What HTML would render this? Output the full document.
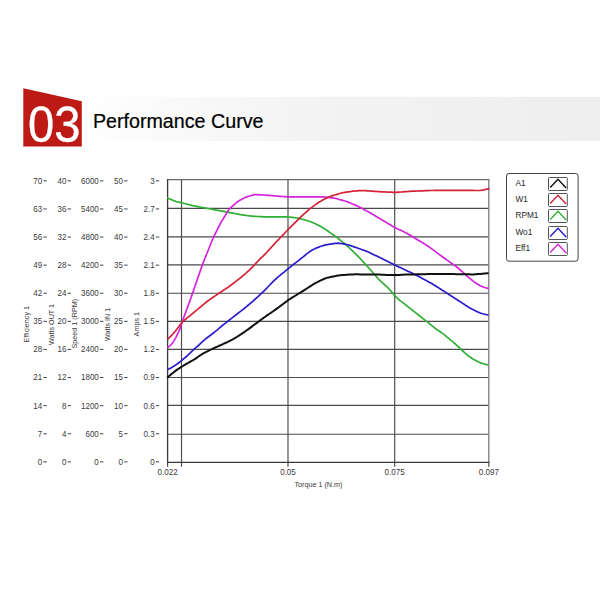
<!DOCTYPE html>
<html><head><meta charset="utf-8"><title>Performance Curve</title>
<style>
html,body{margin:0;padding:0;background:#fff;}
body{width:600px;height:600px;overflow:hidden;position:relative;}
svg{position:absolute;left:0;top:0;}
.ax text{font-family:"Liberation Sans",Arial,sans-serif;font-size:8.5px;fill:#3a3a3a;}
.ax text.tt{font-size:7.2px;}
.lg text{font-size:8.3px;fill:#262626;}
</style></head>
<body>
<svg width="600" height="600" viewBox="0 0 600 600">
<defs>
<linearGradient id="band" x1="0" y1="0" x2="1" y2="0">
<stop offset="0" stop-color="#ffffff"/>
<stop offset="0.12" stop-color="#fbfbfb"/>
<stop offset="0.45" stop-color="#f3f3f3"/>
<stop offset="1" stop-color="#eeeeee"/>
</linearGradient>
</defs>
<rect x="82" y="96.8" width="518" height="44.2" fill="url(#band)"/>
<polygon points="23.3,88.3 81.8,101.3 81.8,146.5 23.3,146.5" fill="#bd1a16"/>
<text transform="translate(28.0,141.8) scale(0.944,1)" font-family="Liberation Sans, Arial, sans-serif" font-size="50" fill="#fff" stroke="#fff" stroke-width="0.35">03</text>
<text x="92.9" y="127.9" font-family="Liberation Sans, Arial, sans-serif" font-size="20.1" fill="#000" stroke="#000" stroke-width="0.2" textLength="170.6" lengthAdjust="spacingAndGlyphs">Performance Curve</text>
<g class="ax">
<text transform="translate(42.2,183.75) scale(0.94,1)" text-anchor="end">70</text>
<line stroke="#444" stroke-width="1" x1="43.4" y1="180.85" x2="46.8" y2="180.85"/>
<text transform="translate(42.2,211.85) scale(0.94,1)" text-anchor="end">63</text>
<line stroke="#444" stroke-width="1" x1="43.4" y1="208.95" x2="46.8" y2="208.95"/>
<text transform="translate(42.2,239.95) scale(0.94,1)" text-anchor="end">56</text>
<line stroke="#444" stroke-width="1" x1="43.4" y1="237.05" x2="46.8" y2="237.05"/>
<text transform="translate(42.2,268.05) scale(0.94,1)" text-anchor="end">49</text>
<line stroke="#444" stroke-width="1" x1="43.4" y1="265.15" x2="46.8" y2="265.15"/>
<text transform="translate(42.2,296.15) scale(0.94,1)" text-anchor="end">42</text>
<line stroke="#444" stroke-width="1" x1="43.4" y1="293.25" x2="46.8" y2="293.25"/>
<text transform="translate(42.2,324.25) scale(0.94,1)" text-anchor="end">35</text>
<line stroke="#444" stroke-width="1" x1="43.4" y1="321.35" x2="46.8" y2="321.35"/>
<text transform="translate(42.2,352.35) scale(0.94,1)" text-anchor="end">28</text>
<line stroke="#444" stroke-width="1" x1="43.4" y1="349.45" x2="46.8" y2="349.45"/>
<text transform="translate(42.2,380.45) scale(0.94,1)" text-anchor="end">21</text>
<line stroke="#444" stroke-width="1" x1="43.4" y1="377.55" x2="46.8" y2="377.55"/>
<text transform="translate(42.2,408.55) scale(0.94,1)" text-anchor="end">14</text>
<line stroke="#444" stroke-width="1" x1="43.4" y1="405.65" x2="46.8" y2="405.65"/>
<text transform="translate(42.2,436.65) scale(0.94,1)" text-anchor="end">7</text>
<line stroke="#444" stroke-width="1" x1="43.4" y1="433.75" x2="46.8" y2="433.75"/>
<text transform="translate(42.2,464.75) scale(0.94,1)" text-anchor="end">0</text>
<line stroke="#444" stroke-width="1" x1="43.4" y1="461.85" x2="46.8" y2="461.85"/>
<text transform="translate(66.4,183.75) scale(0.94,1)" text-anchor="end">40</text>
<line stroke="#444" stroke-width="1" x1="67.6" y1="180.85" x2="71.0" y2="180.85"/>
<text transform="translate(66.4,211.85) scale(0.94,1)" text-anchor="end">36</text>
<line stroke="#444" stroke-width="1" x1="67.6" y1="208.95" x2="71.0" y2="208.95"/>
<text transform="translate(66.4,239.95) scale(0.94,1)" text-anchor="end">32</text>
<line stroke="#444" stroke-width="1" x1="67.6" y1="237.05" x2="71.0" y2="237.05"/>
<text transform="translate(66.4,268.05) scale(0.94,1)" text-anchor="end">28</text>
<line stroke="#444" stroke-width="1" x1="67.6" y1="265.15" x2="71.0" y2="265.15"/>
<text transform="translate(66.4,296.15) scale(0.94,1)" text-anchor="end">24</text>
<line stroke="#444" stroke-width="1" x1="67.6" y1="293.25" x2="71.0" y2="293.25"/>
<text transform="translate(66.4,324.25) scale(0.94,1)" text-anchor="end">20</text>
<line stroke="#444" stroke-width="1" x1="67.6" y1="321.35" x2="71.0" y2="321.35"/>
<text transform="translate(66.4,352.35) scale(0.94,1)" text-anchor="end">16</text>
<line stroke="#444" stroke-width="1" x1="67.6" y1="349.45" x2="71.0" y2="349.45"/>
<text transform="translate(66.4,380.45) scale(0.94,1)" text-anchor="end">12</text>
<line stroke="#444" stroke-width="1" x1="67.6" y1="377.55" x2="71.0" y2="377.55"/>
<text transform="translate(66.4,408.55) scale(0.94,1)" text-anchor="end">8</text>
<line stroke="#444" stroke-width="1" x1="67.6" y1="405.65" x2="71.0" y2="405.65"/>
<text transform="translate(66.4,436.65) scale(0.94,1)" text-anchor="end">4</text>
<line stroke="#444" stroke-width="1" x1="67.6" y1="433.75" x2="71.0" y2="433.75"/>
<text transform="translate(66.4,464.75) scale(0.94,1)" text-anchor="end">0</text>
<line stroke="#444" stroke-width="1" x1="67.6" y1="461.85" x2="71.0" y2="461.85"/>
<text transform="translate(98.8,183.75) scale(0.94,1)" text-anchor="end">6000</text>
<line stroke="#444" stroke-width="1" x1="100.0" y1="180.85" x2="103.4" y2="180.85"/>
<text transform="translate(98.8,211.85) scale(0.94,1)" text-anchor="end">5400</text>
<line stroke="#444" stroke-width="1" x1="100.0" y1="208.95" x2="103.4" y2="208.95"/>
<text transform="translate(98.8,239.95) scale(0.94,1)" text-anchor="end">4800</text>
<line stroke="#444" stroke-width="1" x1="100.0" y1="237.05" x2="103.4" y2="237.05"/>
<text transform="translate(98.8,268.05) scale(0.94,1)" text-anchor="end">4200</text>
<line stroke="#444" stroke-width="1" x1="100.0" y1="265.15" x2="103.4" y2="265.15"/>
<text transform="translate(98.8,296.15) scale(0.94,1)" text-anchor="end">3600</text>
<line stroke="#444" stroke-width="1" x1="100.0" y1="293.25" x2="103.4" y2="293.25"/>
<text transform="translate(98.8,324.25) scale(0.94,1)" text-anchor="end">3000</text>
<line stroke="#444" stroke-width="1" x1="100.0" y1="321.35" x2="103.4" y2="321.35"/>
<text transform="translate(98.8,352.35) scale(0.94,1)" text-anchor="end">2400</text>
<line stroke="#444" stroke-width="1" x1="100.0" y1="349.45" x2="103.4" y2="349.45"/>
<text transform="translate(98.8,380.45) scale(0.94,1)" text-anchor="end">1800</text>
<line stroke="#444" stroke-width="1" x1="100.0" y1="377.55" x2="103.4" y2="377.55"/>
<text transform="translate(98.8,408.55) scale(0.94,1)" text-anchor="end">1200</text>
<line stroke="#444" stroke-width="1" x1="100.0" y1="405.65" x2="103.4" y2="405.65"/>
<text transform="translate(98.8,436.65) scale(0.94,1)" text-anchor="end">600</text>
<line stroke="#444" stroke-width="1" x1="100.0" y1="433.75" x2="103.4" y2="433.75"/>
<text transform="translate(98.8,464.75) scale(0.94,1)" text-anchor="end">0</text>
<line stroke="#444" stroke-width="1" x1="100.0" y1="461.85" x2="103.4" y2="461.85"/>
<text transform="translate(123.0,183.75) scale(0.94,1)" text-anchor="end">50</text>
<line stroke="#444" stroke-width="1" x1="124.2" y1="180.85" x2="127.6" y2="180.85"/>
<text transform="translate(123.0,211.85) scale(0.94,1)" text-anchor="end">45</text>
<line stroke="#444" stroke-width="1" x1="124.2" y1="208.95" x2="127.6" y2="208.95"/>
<text transform="translate(123.0,239.95) scale(0.94,1)" text-anchor="end">40</text>
<line stroke="#444" stroke-width="1" x1="124.2" y1="237.05" x2="127.6" y2="237.05"/>
<text transform="translate(123.0,268.05) scale(0.94,1)" text-anchor="end">35</text>
<line stroke="#444" stroke-width="1" x1="124.2" y1="265.15" x2="127.6" y2="265.15"/>
<text transform="translate(123.0,296.15) scale(0.94,1)" text-anchor="end">30</text>
<line stroke="#444" stroke-width="1" x1="124.2" y1="293.25" x2="127.6" y2="293.25"/>
<text transform="translate(123.0,324.25) scale(0.94,1)" text-anchor="end">25</text>
<line stroke="#444" stroke-width="1" x1="124.2" y1="321.35" x2="127.6" y2="321.35"/>
<text transform="translate(123.0,352.35) scale(0.94,1)" text-anchor="end">20</text>
<line stroke="#444" stroke-width="1" x1="124.2" y1="349.45" x2="127.6" y2="349.45"/>
<text transform="translate(123.0,380.45) scale(0.94,1)" text-anchor="end">15</text>
<line stroke="#444" stroke-width="1" x1="124.2" y1="377.55" x2="127.6" y2="377.55"/>
<text transform="translate(123.0,408.55) scale(0.94,1)" text-anchor="end">10</text>
<line stroke="#444" stroke-width="1" x1="124.2" y1="405.65" x2="127.6" y2="405.65"/>
<text transform="translate(123.0,436.65) scale(0.94,1)" text-anchor="end">5</text>
<line stroke="#444" stroke-width="1" x1="124.2" y1="433.75" x2="127.6" y2="433.75"/>
<text transform="translate(123.0,464.75) scale(0.94,1)" text-anchor="end">0</text>
<line stroke="#444" stroke-width="1" x1="124.2" y1="461.85" x2="127.6" y2="461.85"/>
<text transform="translate(154.6,183.75) scale(0.94,1)" text-anchor="end">3</text>
<line stroke="#444" stroke-width="1" x1="155.8" y1="180.85" x2="159.2" y2="180.85"/>
<text transform="translate(154.6,211.85) scale(0.94,1)" text-anchor="end">2.7</text>
<line stroke="#444" stroke-width="1" x1="155.8" y1="208.95" x2="159.2" y2="208.95"/>
<text transform="translate(154.6,239.95) scale(0.94,1)" text-anchor="end">2.4</text>
<line stroke="#444" stroke-width="1" x1="155.8" y1="237.05" x2="159.2" y2="237.05"/>
<text transform="translate(154.6,268.05) scale(0.94,1)" text-anchor="end">2.1</text>
<line stroke="#444" stroke-width="1" x1="155.8" y1="265.15" x2="159.2" y2="265.15"/>
<text transform="translate(154.6,296.15) scale(0.94,1)" text-anchor="end">1.8</text>
<line stroke="#444" stroke-width="1" x1="155.8" y1="293.25" x2="159.2" y2="293.25"/>
<text transform="translate(154.6,324.25) scale(0.94,1)" text-anchor="end">1.5</text>
<line stroke="#444" stroke-width="1" x1="155.8" y1="321.35" x2="159.2" y2="321.35"/>
<text transform="translate(154.6,352.35) scale(0.94,1)" text-anchor="end">1.2</text>
<line stroke="#444" stroke-width="1" x1="155.8" y1="349.45" x2="159.2" y2="349.45"/>
<text transform="translate(154.6,380.45) scale(0.94,1)" text-anchor="end">0.9</text>
<line stroke="#444" stroke-width="1" x1="155.8" y1="377.55" x2="159.2" y2="377.55"/>
<text transform="translate(154.6,408.55) scale(0.94,1)" text-anchor="end">0.6</text>
<line stroke="#444" stroke-width="1" x1="155.8" y1="405.65" x2="159.2" y2="405.65"/>
<text transform="translate(154.6,436.65) scale(0.94,1)" text-anchor="end">0.3</text>
<line stroke="#444" stroke-width="1" x1="155.8" y1="433.75" x2="159.2" y2="433.75"/>
<text transform="translate(154.6,464.75) scale(0.94,1)" text-anchor="end">0</text>
<line stroke="#444" stroke-width="1" x1="155.8" y1="461.85" x2="159.2" y2="461.85"/>
<text class="tt" transform="translate(28.6,324.3) rotate(-90)" text-anchor="middle">Efficiency 1</text>
<text class="tt" transform="translate(53.6,324.5) rotate(-90)" text-anchor="middle">Watts OUT 1</text>
<text class="tt" transform="translate(76.6,323.7) rotate(-90)" text-anchor="middle">Speed 1 (RPM)</text>
<text class="tt" transform="translate(110.1,324.4) rotate(-90)" text-anchor="middle">Watts IN 1</text>
<text class="tt" transform="translate(139.29999999999998,324.2) rotate(-90)" text-anchor="middle">Amps 1</text>
<text transform="translate(167.6,475.2) scale(0.95,1)" text-anchor="middle">0.022</text>
<text transform="translate(288.0,475.2) scale(0.95,1)" text-anchor="middle">0.05</text>
<text transform="translate(394.7,475.2) scale(0.95,1)" text-anchor="middle">0.075</text>
<text transform="translate(488.8,475.2) scale(0.95,1)" text-anchor="middle">0.097</text>
<text class="tt" x="318.4" y="487.3" text-anchor="middle">Torque 1 (N.m)</text>
</g>
<g stroke="#4a4a4a" stroke-width="1.15" fill="none">
<line x1="167.6" y1="208.30" x2="488.8" y2="208.30"/>
<line x1="167.6" y1="236.90" x2="488.8" y2="236.90"/>
<line x1="167.6" y1="264.90" x2="488.8" y2="264.90"/>
<line x1="167.6" y1="293.20" x2="488.8" y2="293.20"/>
<line x1="167.6" y1="321.40" x2="488.8" y2="321.40"/>
<line x1="167.6" y1="349.30" x2="488.8" y2="349.30"/>
<line x1="167.6" y1="377.50" x2="488.8" y2="377.50"/>
<line x1="167.6" y1="405.40" x2="488.8" y2="405.40"/>
<line x1="167.6" y1="434.20" x2="488.8" y2="434.20"/>
<line x1="181.50" y1="179.6" x2="181.50" y2="462.4"/>
<line x1="288.00" y1="179.6" x2="288.00" y2="462.4"/>
<line x1="394.70" y1="179.6" x2="394.70" y2="462.4"/>
<line x1="167.60" y1="462.5" x2="167.60" y2="466.7"/>
<line x1="181.50" y1="462.5" x2="181.50" y2="466.7"/>
<line x1="288.00" y1="462.5" x2="288.00" y2="466.7"/>
<line x1="394.70" y1="462.5" x2="394.70" y2="466.7"/>
<line x1="488.80" y1="462.5" x2="488.80" y2="466.7"/>
</g>
<g fill="none" stroke-linecap="square">
<line x1="167.6" y1="179.6" x2="488.8" y2="179.6" stroke="#6a6a6a" stroke-width="1.3"/>
<line x1="488.8" y1="179.6" x2="488.8" y2="462.4" stroke="#7a7a7a" stroke-width="1.3"/>
<line x1="167.6" y1="179.6" x2="167.6" y2="462.4" stroke="#3a3a3a" stroke-width="1.3"/>
<line x1="167.6" y1="462.4" x2="488.8" y2="462.4" stroke="#3a3a3a" stroke-width="1.3"/>
</g>
<g fill="none" stroke-width="1.7" stroke-linejoin="round" stroke-linecap="round">
<polyline points="167.8,198.2 168.8,198.6 169.8,199.0 170.8,199.4 171.8,199.8 172.8,200.2 173.8,200.6 174.8,201.0 175.8,201.4 176.8,201.7 177.8,202.0 178.8,202.2 179.8,202.4 180.8,202.6 181.8,202.8 182.8,203.0 183.8,203.3 184.8,203.5 185.8,203.8 186.8,204.1 187.8,204.3 188.8,204.6 189.8,204.8 190.8,205.1 191.8,205.4 192.8,205.6 193.8,205.8 194.8,206.0 195.8,206.2 196.8,206.4 197.8,206.6 198.8,206.8 199.8,207.0 200.8,207.2 201.8,207.3 202.8,207.5 203.8,207.7 204.8,207.9 205.8,208.1 206.8,208.3 207.8,208.5 208.8,208.7 209.8,208.8 210.8,209.0 211.8,209.2 212.8,209.4 213.8,209.6 214.8,209.8 215.8,210.0 216.8,210.1 217.8,210.3 218.8,210.5 219.8,210.7 220.8,210.9 221.8,211.1 222.8,211.2 223.8,211.4 224.8,211.6 225.8,211.8 226.8,212.0 227.8,212.2 228.8,212.4 229.8,212.6 230.8,212.8 231.8,212.9 232.8,213.1 233.8,213.3 234.8,213.5 235.8,213.7 236.8,213.9 237.8,214.1 238.8,214.3 239.8,214.5 240.8,214.6 241.8,214.8 242.8,215.0 243.8,215.1 244.8,215.2 245.8,215.4 246.8,215.5 247.8,215.7 248.8,215.8 249.8,216.0 250.8,216.1 251.8,216.2 252.8,216.2 253.8,216.3 254.8,216.4 255.8,216.4 256.8,216.5 257.8,216.5 258.8,216.6 259.8,216.6 260.8,216.7 261.8,216.7 262.8,216.8 263.8,216.8 264.8,216.8 265.8,216.9 266.8,216.9 267.8,216.9 268.8,216.9 269.8,216.9 270.8,216.9 271.8,216.9 272.8,216.9 273.8,216.9 274.8,216.9 275.8,216.9 276.8,216.9 277.8,216.9 278.8,216.9 279.8,216.9 280.8,216.9 281.8,216.9 282.8,216.9 283.8,216.9 284.8,216.9 285.8,216.9 286.8,216.9 287.8,217.0 288.8,217.0 289.8,217.1 290.8,217.2 291.8,217.3 292.8,217.4 293.8,217.6 294.8,217.7 295.8,217.8 296.8,218.0 297.8,218.2 298.8,218.4 299.8,218.6 300.8,218.8 301.8,219.1 302.8,219.3 303.8,219.6 304.8,219.9 305.8,220.2 306.8,220.5 307.8,220.8 308.8,221.1 309.8,221.5 310.8,221.8 311.8,222.2 312.8,222.6 313.8,223.1 314.8,223.6 315.8,224.1 316.8,224.6 317.8,225.1 318.8,225.6 319.8,226.1 320.8,226.6 321.8,227.1 322.8,227.7 323.8,228.3 324.8,228.9 325.8,229.6 326.8,230.3 327.8,231.0 328.8,231.7 329.8,232.4 330.8,233.1 331.8,233.8 332.8,234.5 333.8,235.2 334.8,235.9 335.8,236.7 336.8,237.4 337.8,238.2 338.8,239.0 339.8,239.8 340.8,240.6 341.8,241.4 342.8,242.2 343.8,243.0 344.8,243.8 345.8,244.7 346.8,245.5 347.8,246.4 348.8,247.4 349.8,248.3 350.8,249.3 351.8,250.2 352.8,251.2 353.8,252.2 354.8,253.1 355.8,254.1 356.8,255.1 357.8,256.1 358.8,257.1 359.8,258.2 360.8,259.2 361.8,260.3 362.8,261.4 363.8,262.5 364.8,263.6 365.8,264.7 366.8,265.8 367.8,266.9 368.8,268.0 369.8,269.1 370.8,270.2 371.8,271.4 372.8,272.5 373.8,273.7 374.8,274.8 375.8,276.0 376.8,277.1 377.8,278.2 378.8,279.3 379.8,280.3 380.8,281.3 381.8,282.2 382.8,283.1 383.8,284.0 384.8,284.9 385.8,285.8 386.8,286.7 387.8,287.6 388.8,288.7 389.8,289.8 390.8,290.9 391.8,292.1 392.8,293.3 393.8,294.5 394.8,295.6 395.8,296.7 396.8,297.7 397.8,298.6 398.8,299.5 399.8,300.3 400.8,301.1 401.8,301.9 402.8,302.6 403.8,303.4 404.8,304.2 405.8,305.0 406.8,305.8 407.8,306.6 408.8,307.4 409.8,308.1 410.8,308.9 411.8,309.7 412.8,310.5 413.8,311.3 414.8,312.1 415.8,312.9 416.8,313.7 417.8,314.5 418.8,315.3 419.8,316.0 420.8,316.8 421.8,317.6 422.8,318.4 423.8,319.2 424.8,320.0 425.8,320.8 426.8,321.6 427.8,322.4 428.8,323.2 429.8,324.0 430.8,324.8 431.8,325.6 432.8,326.4 433.8,327.2 434.8,328.0 435.8,328.7 436.8,329.5 437.8,330.2 438.8,330.8 439.8,331.5 440.8,332.2 441.8,332.9 442.8,333.6 443.8,334.4 444.8,335.1 445.8,335.9 446.8,336.8 447.8,337.6 448.8,338.4 449.8,339.3 450.8,340.1 451.8,340.9 452.8,341.8 453.8,342.6 454.8,343.5 455.8,344.4 456.8,345.4 457.8,346.3 458.8,347.2 459.8,348.2 460.8,349.1 461.8,350.1 462.8,351.0 463.8,351.9 464.8,352.8 465.8,353.6 466.8,354.5 467.8,355.3 468.8,356.1 469.8,356.8 470.8,357.5 471.8,358.2 472.8,358.9 473.8,359.5 474.8,360.1 475.8,360.6 476.8,361.1 477.8,361.6 478.8,362.1 479.8,362.5 480.8,362.9 481.8,363.2 482.8,363.5 483.8,363.8 484.8,364.1 485.8,364.3 486.8,364.6 487.8,364.9" stroke="#30b035"/>
<polyline points="167.8,347.4 168.8,346.6 169.8,345.8 170.8,344.9 171.8,343.9 172.8,342.7 173.8,341.1 174.8,339.4 175.8,337.6 176.8,335.7 177.8,333.7 178.8,331.6 179.8,329.0 180.8,326.1 181.8,323.0 182.8,320.0 183.8,317.3 184.8,314.6 185.8,312.0 186.8,309.3 187.8,306.6 188.8,303.8 189.8,301.1 190.8,298.3 191.8,295.4 192.8,292.6 193.8,289.7 194.8,286.8 195.8,283.9 196.8,281.0 197.8,278.0 198.8,275.1 199.8,272.2 200.8,269.4 201.8,266.6 202.8,263.9 203.8,261.3 204.8,258.8 205.8,256.3 206.8,253.8 207.8,251.3 208.8,248.8 209.8,246.3 210.8,243.8 211.8,241.3 212.8,239.0 213.8,236.7 214.8,234.6 215.8,232.6 216.8,230.5 217.8,228.5 218.8,226.5 219.8,224.6 220.8,222.8 221.8,221.1 222.8,219.5 223.8,217.8 224.8,216.2 225.8,214.5 226.8,212.9 227.8,211.3 228.8,209.8 229.8,208.6 230.8,207.6 231.8,206.7 232.8,205.8 233.8,205.0 234.8,204.1 235.8,203.2 236.8,202.3 237.8,201.5 238.8,200.9 239.8,200.3 240.8,199.8 241.8,199.3 242.8,198.8 243.8,198.3 244.8,197.8 245.8,197.3 246.8,196.9 247.8,196.6 248.8,196.3 249.8,196.0 250.8,195.7 251.8,195.4 252.8,195.1 253.8,194.8 254.8,194.7 255.8,194.7 256.8,194.7 257.8,194.7 258.8,194.8 259.8,194.8 260.8,194.8 261.8,194.9 262.8,194.9 263.8,195.0 264.8,195.0 265.8,195.1 266.8,195.2 267.8,195.3 268.8,195.4 269.8,195.4 270.8,195.5 271.8,195.6 272.8,195.7 273.8,195.8 274.8,195.9 275.8,196.0 276.8,196.1 277.8,196.1 278.8,196.2 279.8,196.3 280.8,196.4 281.8,196.5 282.8,196.5 283.8,196.6 284.8,196.7 285.8,196.7 286.8,196.8 287.8,196.8 288.8,196.8 289.8,196.8 290.8,196.8 291.8,196.8 292.8,196.8 293.8,196.8 294.8,196.8 295.8,196.8 296.8,196.8 297.8,196.8 298.8,196.8 299.8,196.8 300.8,196.8 301.8,196.8 302.8,196.8 303.8,196.8 304.8,196.8 305.8,196.8 306.8,196.8 307.8,196.8 308.8,196.8 309.8,196.8 310.8,196.8 311.8,196.8 312.8,196.8 313.8,196.8 314.8,196.8 315.8,196.8 316.8,196.8 317.8,196.8 318.8,196.8 319.8,196.8 320.8,196.8 321.8,196.8 322.8,196.8 323.8,196.9 324.8,197.0 325.8,197.1 326.8,197.2 327.8,197.3 328.8,197.5 329.8,197.6 330.8,197.7 331.8,197.8 332.8,197.9 333.8,198.1 334.8,198.2 335.8,198.5 336.8,198.7 337.8,199.0 338.8,199.3 339.8,199.6 340.8,199.8 341.8,200.1 342.8,200.4 343.8,200.7 344.8,201.0 345.8,201.3 346.8,201.6 347.8,202.0 348.8,202.4 349.8,202.8 350.8,203.2 351.8,203.7 352.8,204.1 353.8,204.5 354.8,204.9 355.8,205.3 356.8,205.8 357.8,206.2 358.8,206.7 359.8,207.2 360.8,207.7 361.8,208.3 362.8,208.8 363.8,209.4 364.8,209.9 365.8,210.4 366.8,211.0 367.8,211.5 368.8,212.1 369.8,212.6 370.8,213.2 371.8,213.8 372.8,214.4 373.8,215.0 374.8,215.6 375.8,216.2 376.8,216.8 377.8,217.4 378.8,218.0 379.8,218.6 380.8,219.2 381.8,219.8 382.8,220.4 383.8,221.0 384.8,221.6 385.8,222.2 386.8,222.8 387.8,223.4 388.8,224.0 389.8,224.6 390.8,225.2 391.8,225.8 392.8,226.4 393.8,226.9 394.8,227.4 395.8,227.9 396.8,228.4 397.8,228.9 398.8,229.4 399.8,229.9 400.8,230.3 401.8,230.8 402.8,231.3 403.8,231.8 404.8,232.3 405.8,232.8 406.8,233.3 407.8,233.9 408.8,234.5 409.8,235.1 410.8,235.7 411.8,236.3 412.8,236.9 413.8,237.5 414.8,238.1 415.8,238.7 416.8,239.3 417.8,239.9 418.8,240.5 419.8,241.1 420.8,241.7 421.8,242.3 422.8,242.9 423.8,243.5 424.8,244.1 425.8,244.8 426.8,245.4 427.8,246.0 428.8,246.7 429.8,247.4 430.8,248.2 431.8,248.9 432.8,249.6 433.8,250.4 434.8,251.1 435.8,251.9 436.8,252.6 437.8,253.4 438.8,254.1 439.8,254.8 440.8,255.6 441.8,256.3 442.8,257.0 443.8,257.8 444.8,258.5 445.8,259.2 446.8,259.9 447.8,260.6 448.8,261.3 449.8,262.1 450.8,262.8 451.8,263.5 452.8,264.2 453.8,264.9 454.8,265.6 455.8,266.3 456.8,267.0 457.8,267.8 458.8,268.7 459.8,269.6 460.8,270.5 461.8,271.4 462.8,272.2 463.8,273.1 464.8,274.0 465.8,274.9 466.8,275.8 467.8,276.7 468.8,277.5 469.8,278.4 470.8,279.2 471.8,280.0 472.8,280.8 473.8,281.6 474.8,282.3 475.8,283.1 476.8,283.7 477.8,284.3 478.8,284.8 479.8,285.4 480.8,285.9 481.8,286.4 482.8,286.8 483.8,287.2 484.8,287.5 485.8,287.8 486.8,288.1 487.8,288.4" stroke="#d424dc"/>
<polyline points="167.8,339.2 168.8,338.2 169.8,337.1 170.8,336.1 171.8,335.1 172.8,334.0 173.8,332.9 174.8,331.8 175.8,330.6 176.8,329.3 177.8,328.0 178.8,326.7 179.8,325.3 180.8,324.0 181.8,322.8 182.8,321.7 183.8,320.7 184.8,319.8 185.8,319.0 186.8,318.2 187.8,317.4 188.8,316.6 189.8,315.8 190.8,315.0 191.8,314.2 192.8,313.4 193.8,312.5 194.8,311.7 195.8,310.9 196.8,310.1 197.8,309.2 198.8,308.4 199.8,307.5 200.8,306.7 201.8,305.8 202.8,305.0 203.8,304.2 204.8,303.3 205.8,302.5 206.8,301.7 207.8,301.0 208.8,300.3 209.8,299.6 210.8,298.9 211.8,298.2 212.8,297.5 213.8,296.8 214.8,296.1 215.8,295.4 216.8,294.8 217.8,294.1 218.8,293.4 219.8,292.7 220.8,292.0 221.8,291.4 222.8,290.7 223.8,290.0 224.8,289.4 225.8,288.7 226.8,288.0 227.8,287.4 228.8,286.7 229.8,286.0 230.8,285.2 231.8,284.5 232.8,283.7 233.8,283.0 234.8,282.2 235.8,281.4 236.8,280.7 237.8,279.9 238.8,279.1 239.8,278.3 240.8,277.5 241.8,276.7 242.8,275.8 243.8,275.0 244.8,274.1 245.8,273.3 246.8,272.4 247.8,271.5 248.8,270.6 249.8,269.6 250.8,268.6 251.8,267.6 252.8,266.6 253.8,265.6 254.8,264.5 255.8,263.4 256.8,262.4 257.8,261.3 258.8,260.2 259.8,259.2 260.8,258.2 261.8,257.3 262.8,256.4 263.8,255.4 264.8,254.4 265.8,253.4 266.8,252.3 267.8,251.2 268.8,250.1 269.8,249.0 270.8,247.9 271.8,246.8 272.8,245.7 273.8,244.6 274.8,243.5 275.8,242.4 276.8,241.4 277.8,240.3 278.8,239.3 279.8,238.2 280.8,237.2 281.8,236.1 282.8,235.1 283.8,234.1 284.8,233.0 285.8,232.0 286.8,231.0 287.8,229.9 288.8,228.9 289.8,227.9 290.8,226.9 291.8,225.8 292.8,224.8 293.8,223.8 294.8,222.8 295.8,221.8 296.8,220.8 297.8,219.8 298.8,218.8 299.8,217.8 300.8,216.9 301.8,216.0 302.8,215.1 303.8,214.2 304.8,213.3 305.8,212.4 306.8,211.5 307.8,210.6 308.8,209.7 309.8,208.9 310.8,208.1 311.8,207.4 312.8,206.6 313.8,205.9 314.8,205.1 315.8,204.4 316.8,203.7 317.8,203.0 318.8,202.3 319.8,201.7 320.8,201.2 321.8,200.6 322.8,200.1 323.8,199.6 324.8,199.1 325.8,198.6 326.8,198.1 327.8,197.6 328.8,197.1 329.8,196.7 330.8,196.3 331.8,195.9 332.8,195.6 333.8,195.3 334.8,195.0 335.8,194.7 336.8,194.4 337.8,194.1 338.8,193.8 339.8,193.5 340.8,193.2 341.8,193.0 342.8,192.7 343.8,192.6 344.8,192.4 345.8,192.2 346.8,192.1 347.8,191.9 348.8,191.8 349.8,191.6 350.8,191.5 351.8,191.3 352.8,191.2 353.8,191.1 354.8,191.0 355.8,190.9 356.8,190.8 357.8,190.8 358.8,190.7 359.8,190.7 360.8,190.6 361.8,190.6 362.8,190.6 363.8,190.6 364.8,190.7 365.8,190.7 366.8,190.8 367.8,190.9 368.8,190.9 369.8,191.0 370.8,191.1 371.8,191.1 372.8,191.2 373.8,191.3 374.8,191.4 375.8,191.4 376.8,191.5 377.8,191.6 378.8,191.6 379.8,191.7 380.8,191.8 381.8,191.8 382.8,191.8 383.8,191.9 384.8,191.9 385.8,192.0 386.8,192.0 387.8,192.1 388.8,192.1 389.8,192.1 390.8,192.2 391.8,192.2 392.8,192.3 393.8,192.3 394.8,192.3 395.8,192.3 396.8,192.3 397.8,192.2 398.8,192.2 399.8,192.1 400.8,192.0 401.8,192.0 402.8,191.9 403.8,191.8 404.8,191.7 405.8,191.7 406.8,191.6 407.8,191.5 408.8,191.4 409.8,191.4 410.8,191.3 411.8,191.2 412.8,191.2 413.8,191.1 414.8,191.1 415.8,191.1 416.8,191.0 417.8,191.0 418.8,190.9 419.8,190.9 420.8,190.9 421.8,190.8 422.8,190.8 423.8,190.8 424.8,190.7 425.8,190.7 426.8,190.6 427.8,190.6 428.8,190.6 429.8,190.5 430.8,190.5 431.8,190.5 432.8,190.5 433.8,190.4 434.8,190.4 435.8,190.4 436.8,190.4 437.8,190.4 438.8,190.3 439.8,190.3 440.8,190.3 441.8,190.3 442.8,190.3 443.8,190.3 444.8,190.3 445.8,190.3 446.8,190.3 447.8,190.3 448.8,190.3 449.8,190.3 450.8,190.3 451.8,190.3 452.8,190.3 453.8,190.3 454.8,190.3 455.8,190.3 456.8,190.3 457.8,190.3 458.8,190.3 459.8,190.3 460.8,190.3 461.8,190.3 462.8,190.3 463.8,190.3 464.8,190.3 465.8,190.3 466.8,190.3 467.8,190.4 468.8,190.4 469.8,190.4 470.8,190.4 471.8,190.4 472.8,190.4 473.8,190.5 474.8,190.5 475.8,190.5 476.8,190.5 477.8,190.5 478.8,190.5 479.8,190.5 480.8,190.4 481.8,190.2 482.8,190.0 483.8,189.8 484.8,189.6 485.8,189.4 486.8,189.2 487.8,189.1 488.8,188.9" stroke="#d42236"/>
<polyline points="167.8,369.4 168.8,368.9 169.8,368.4 170.8,367.9 171.8,367.4 172.8,366.8 173.8,366.2 174.8,365.6 175.8,364.9 176.8,364.2 177.8,363.5 178.8,362.7 179.8,362.0 180.8,361.2 181.8,360.4 182.8,359.5 183.8,358.7 184.8,357.9 185.8,357.0 186.8,356.1 187.8,355.2 188.8,354.2 189.8,353.3 190.8,352.3 191.8,351.3 192.8,350.4 193.8,349.5 194.8,348.6 195.8,347.7 196.8,346.8 197.8,346.0 198.8,345.1 199.8,344.2 200.8,343.2 201.8,342.3 202.8,341.4 203.8,340.4 204.8,339.6 205.8,338.7 206.8,338.0 207.8,337.2 208.8,336.5 209.8,335.8 210.8,335.0 211.8,334.3 212.8,333.5 213.8,332.8 214.8,331.9 215.8,331.1 216.8,330.3 217.8,329.4 218.8,328.6 219.8,327.7 220.8,326.9 221.8,326.0 222.8,325.2 223.8,324.4 224.8,323.6 225.8,322.8 226.8,322.0 227.8,321.3 228.8,320.5 229.8,319.7 230.8,318.9 231.8,318.1 232.8,317.4 233.8,316.6 234.8,315.8 235.8,315.0 236.8,314.3 237.8,313.5 238.8,312.7 239.8,311.9 240.8,311.2 241.8,310.4 242.8,309.6 243.8,308.8 244.8,308.0 245.8,307.2 246.8,306.3 247.8,305.5 248.8,304.7 249.8,303.8 250.8,303.0 251.8,302.2 252.8,301.3 253.8,300.4 254.8,299.5 255.8,298.6 256.8,297.7 257.8,296.8 258.8,295.8 259.8,294.9 260.8,294.0 261.8,293.0 262.8,292.1 263.8,291.1 264.8,290.1 265.8,289.1 266.8,288.1 267.8,287.0 268.8,286.0 269.8,285.0 270.8,283.9 271.8,282.9 272.8,281.8 273.8,280.8 274.8,279.9 275.8,279.0 276.8,278.1 277.8,277.2 278.8,276.4 279.8,275.6 280.8,274.7 281.8,273.9 282.8,273.1 283.8,272.3 284.8,271.4 285.8,270.6 286.8,269.8 287.8,269.0 288.8,268.2 289.8,267.4 290.8,266.6 291.8,265.8 292.8,265.0 293.8,264.2 294.8,263.4 295.8,262.7 296.8,261.9 297.8,261.1 298.8,260.3 299.8,259.5 300.8,258.7 301.8,257.9 302.8,257.1 303.8,256.3 304.8,255.5 305.8,254.7 306.8,253.9 307.8,253.1 308.8,252.3 309.8,251.6 310.8,250.9 311.8,250.3 312.8,249.7 313.8,249.2 314.8,248.8 315.8,248.3 316.8,247.9 317.8,247.5 318.8,247.1 319.8,246.7 320.8,246.3 321.8,246.0 322.8,245.6 323.8,245.4 324.8,245.1 325.8,244.9 326.8,244.7 327.8,244.6 328.8,244.4 329.8,244.2 330.8,244.1 331.8,243.9 332.8,243.7 333.8,243.6 334.8,243.4 335.8,243.3 336.8,243.3 337.8,243.2 338.8,243.3 339.8,243.4 340.8,243.5 341.8,243.6 342.8,243.8 343.8,243.9 344.8,244.1 345.8,244.3 346.8,244.5 347.8,244.8 348.8,245.1 349.8,245.4 350.8,245.7 351.8,246.1 352.8,246.4 353.8,246.7 354.8,247.1 355.8,247.4 356.8,247.8 357.8,248.1 358.8,248.5 359.8,248.8 360.8,249.2 361.8,249.5 362.8,249.9 363.8,250.2 364.8,250.6 365.8,250.9 366.8,251.4 367.8,251.8 368.8,252.2 369.8,252.7 370.8,253.2 371.8,253.7 372.8,254.2 373.8,254.7 374.8,255.2 375.8,255.6 376.8,256.1 377.8,256.6 378.8,257.1 379.8,257.6 380.8,258.1 381.8,258.6 382.8,259.1 383.8,259.6 384.8,260.1 385.8,260.6 386.8,261.1 387.8,261.6 388.8,262.1 389.8,262.6 390.8,263.1 391.8,263.5 392.8,264.0 393.8,264.5 394.8,265.0 395.8,265.5 396.8,266.0 397.8,266.4 398.8,266.9 399.8,267.4 400.8,267.8 401.8,268.3 402.8,268.8 403.8,269.3 404.8,269.7 405.8,270.2 406.8,270.7 407.8,271.2 408.8,271.6 409.8,272.1 410.8,272.6 411.8,273.1 412.8,273.6 413.8,274.1 414.8,274.6 415.8,275.1 416.8,275.6 417.8,276.1 418.8,276.6 419.8,277.1 420.8,277.6 421.8,278.2 422.8,278.7 423.8,279.2 424.8,279.8 425.8,280.3 426.8,280.8 427.8,281.4 428.8,281.9 429.8,282.5 430.8,283.0 431.8,283.6 432.8,284.2 433.8,284.8 434.8,285.4 435.8,286.0 436.8,286.7 437.8,287.3 438.8,287.9 439.8,288.6 440.8,289.2 441.8,289.9 442.8,290.5 443.8,291.1 444.8,291.8 445.8,292.4 446.8,293.1 447.8,293.7 448.8,294.4 449.8,295.0 450.8,295.7 451.8,296.3 452.8,297.0 453.8,297.6 454.8,298.3 455.8,298.9 456.8,299.5 457.8,300.2 458.8,300.8 459.8,301.5 460.8,302.1 461.8,302.8 462.8,303.4 463.8,304.1 464.8,304.7 465.8,305.4 466.8,306.0 467.8,306.7 468.8,307.3 469.8,307.9 470.8,308.4 471.8,309.0 472.8,309.5 473.8,310.0 474.8,310.5 475.8,311.0 476.8,311.5 477.8,312.0 478.8,312.4 479.8,312.8 480.8,313.2 481.8,313.5 482.8,313.8 483.8,314.0 484.8,314.3 485.8,314.5 486.8,314.7 487.8,315.0" stroke="#2a1ccc"/>
<polyline points="167.8,377.2 168.8,376.3 169.8,375.5 170.8,374.6 171.8,373.8 172.8,373.0 173.8,372.2 174.8,371.4 175.8,370.6 176.8,369.9 177.8,369.2 178.8,368.6 179.8,367.9 180.8,367.2 181.8,366.6 182.8,366.0 183.8,365.4 184.8,364.8 185.8,364.2 186.8,363.6 187.8,363.1 188.8,362.5 189.8,362.0 190.8,361.4 191.8,360.8 192.8,360.3 193.8,359.7 194.8,359.1 195.8,358.4 196.8,357.8 197.8,357.0 198.8,356.3 199.8,355.6 200.8,355.0 201.8,354.3 202.8,353.7 203.8,353.2 204.8,352.6 205.8,352.1 206.8,351.6 207.8,351.1 208.8,350.6 209.8,350.1 210.8,349.6 211.8,349.1 212.8,348.6 213.8,348.2 214.8,347.7 215.8,347.3 216.8,346.9 217.8,346.4 218.8,346.0 219.8,345.5 220.8,345.1 221.8,344.6 222.8,344.2 223.8,343.7 224.8,343.2 225.8,342.8 226.8,342.3 227.8,341.8 228.8,341.3 229.8,340.8 230.8,340.3 231.8,339.8 232.8,339.3 233.8,338.7 234.8,338.2 235.8,337.6 236.8,337.0 237.8,336.3 238.8,335.7 239.8,335.0 240.8,334.4 241.8,333.7 242.8,333.1 243.8,332.4 244.8,331.7 245.8,331.0 246.8,330.3 247.8,329.6 248.8,328.9 249.8,328.1 250.8,327.4 251.8,326.6 252.8,325.8 253.8,325.1 254.8,324.3 255.8,323.6 256.8,322.9 257.8,322.1 258.8,321.4 259.8,320.6 260.8,319.9 261.8,319.2 262.8,318.4 263.8,317.7 264.8,317.0 265.8,316.3 266.8,315.6 267.8,314.9 268.8,314.2 269.8,313.5 270.8,312.9 271.8,312.2 272.8,311.5 273.8,310.8 274.8,310.1 275.8,309.4 276.8,308.6 277.8,307.9 278.8,307.2 279.8,306.4 280.8,305.7 281.8,304.9 282.8,304.2 283.8,303.4 284.8,302.7 285.8,301.9 286.8,301.2 287.8,300.4 288.8,299.7 289.8,299.1 290.8,298.4 291.8,297.8 292.8,297.2 293.8,296.6 294.8,296.0 295.8,295.4 296.8,294.7 297.8,294.1 298.8,293.5 299.8,292.9 300.8,292.3 301.8,291.7 302.8,291.1 303.8,290.4 304.8,289.8 305.8,289.2 306.8,288.5 307.8,287.9 308.8,287.2 309.8,286.6 310.8,285.9 311.8,285.3 312.8,284.6 313.8,284.0 314.8,283.5 315.8,282.9 316.8,282.4 317.8,281.9 318.8,281.4 319.8,280.9 320.8,280.4 321.8,279.9 322.8,279.5 323.8,279.0 324.8,278.6 325.8,278.2 326.8,277.9 327.8,277.6 328.8,277.4 329.8,277.2 330.8,277.0 331.8,276.8 332.8,276.6 333.8,276.4 334.8,276.2 335.8,276.0 336.8,275.8 337.8,275.6 338.8,275.4 339.8,275.3 340.8,275.2 341.8,275.1 342.8,275.0 343.8,274.9 344.8,274.9 345.8,274.8 346.8,274.7 347.8,274.7 348.8,274.6 349.8,274.6 350.8,274.5 351.8,274.4 352.8,274.4 353.8,274.4 354.8,274.3 355.8,274.3 356.8,274.3 357.8,274.3 358.8,274.3 359.8,274.4 360.8,274.4 361.8,274.4 362.8,274.4 363.8,274.4 364.8,274.4 365.8,274.4 366.8,274.4 367.8,274.4 368.8,274.4 369.8,274.4 370.8,274.4 371.8,274.5 372.8,274.5 373.8,274.5 374.8,274.5 375.8,274.5 376.8,274.5 377.8,274.6 378.8,274.6 379.8,274.6 380.8,274.7 381.8,274.7 382.8,274.7 383.8,274.8 384.8,274.8 385.8,274.9 386.8,274.9 387.8,275.0 388.8,275.0 389.8,275.0 390.8,275.1 391.8,275.1 392.8,275.1 393.8,275.1 394.8,275.1 395.8,275.1 396.8,275.0 397.8,275.0 398.8,274.9 399.8,274.9 400.8,274.8 401.8,274.8 402.8,274.7 403.8,274.7 404.8,274.6 405.8,274.6 406.8,274.5 407.8,274.5 408.8,274.5 409.8,274.5 410.8,274.4 411.8,274.4 412.8,274.4 413.8,274.4 414.8,274.4 415.8,274.3 416.8,274.3 417.8,274.3 418.8,274.3 419.8,274.3 420.8,274.3 421.8,274.2 422.8,274.2 423.8,274.2 424.8,274.2 425.8,274.2 426.8,274.1 427.8,274.1 428.8,274.1 429.8,274.1 430.8,274.1 431.8,274.1 432.8,274.0 433.8,274.0 434.8,274.0 435.8,274.0 436.8,274.0 437.8,273.9 438.8,273.9 439.8,273.9 440.8,273.9 441.8,273.9 442.8,273.9 443.8,274.0 444.8,274.0 445.8,274.0 446.8,274.0 447.8,274.0 448.8,274.0 449.8,274.1 450.8,274.1 451.8,274.1 452.8,274.1 453.8,274.1 454.8,274.1 455.8,274.2 456.8,274.2 457.8,274.2 458.8,274.2 459.8,274.2 460.8,274.2 461.8,274.2 462.8,274.3 463.8,274.3 464.8,274.3 465.8,274.3 466.8,274.3 467.8,274.3 468.8,274.3 469.8,274.3 470.8,274.4 471.8,274.4 472.8,274.4 473.8,274.4 474.8,274.3 475.8,274.3 476.8,274.2 477.8,274.1 478.8,274.1 479.8,274.0 480.8,273.9 481.8,273.8 482.8,273.7 483.8,273.6 484.8,273.5 485.8,273.4 486.8,273.3 487.8,273.2" stroke="#111" stroke-width="2.0"/>
</g>
<rect x="506.5" y="173.5" width="71.6" height="87.7" rx="2.5" fill="#fff" stroke="#444" stroke-width="1"/>
<g class="ax lg">
<text x="515.4" y="186.1">A1</text>
<rect x="548.5" y="177.5" width="18.8" height="13" rx="0.8" fill="#fff" stroke="#555" stroke-width="1"/>
<polyline points="550.2,187.5 558.0,179.3 566.2,187.9" fill="none" stroke="#111" stroke-width="1.4"/>
<text x="515.4" y="202.1">W1</text>
<rect x="548.5" y="193.5" width="18.8" height="13" rx="0.8" fill="#fff" stroke="#555" stroke-width="1"/>
<polyline points="550.2,203.5 558.0,195.3 566.2,203.9" fill="none" stroke="#d42236" stroke-width="1.4"/>
<text x="515.4" y="218.1">RPM1</text>
<rect x="548.5" y="209.5" width="18.8" height="13" rx="0.8" fill="#fff" stroke="#555" stroke-width="1"/>
<polyline points="550.2,219.5 558.0,211.3 566.2,219.9" fill="none" stroke="#30b035" stroke-width="1.4"/>
<text x="515.4" y="235.1">Wo1</text>
<rect x="548.5" y="226.5" width="18.8" height="13" rx="0.8" fill="#fff" stroke="#555" stroke-width="1"/>
<polyline points="550.2,236.5 558.0,228.3 566.2,236.9" fill="none" stroke="#2a1ccc" stroke-width="1.4"/>
<text x="515.4" y="251.1">Eff1</text>
<rect x="548.5" y="242.5" width="18.8" height="13" rx="0.8" fill="#fff" stroke="#555" stroke-width="1"/>
<polyline points="550.2,252.5 558.0,244.3 566.2,252.9" fill="none" stroke="#d424dc" stroke-width="1.4"/>
</g>
</svg>
</body></html>
